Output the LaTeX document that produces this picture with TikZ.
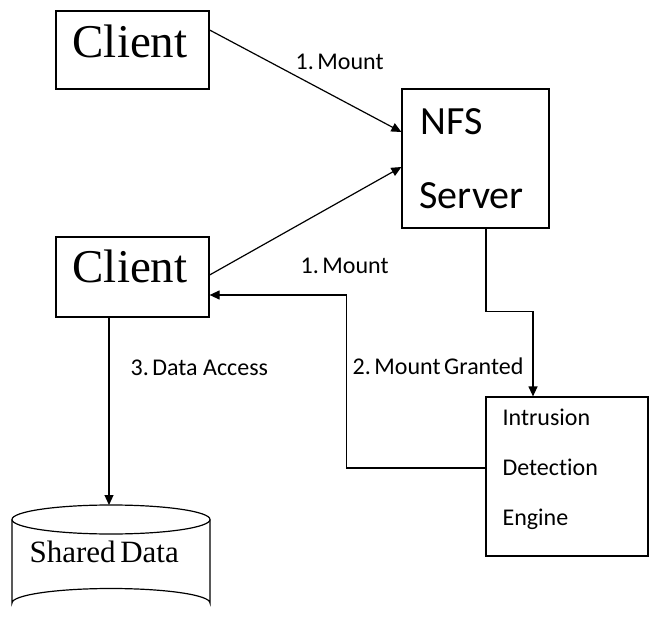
\documentclass[tikz,border=0pt]{standalone}
\usepackage{fontspec}
\setmainfont{Liberation Serif}
\newfontfamily\calfont[Ligatures={NoCommon,NoContextual}]{Carlito}
\usetikzlibrary{arrows.meta}
\begin{document}
\begin{tikzpicture}[x=1pt,y=-1pt,line width=1.2pt,
  box/.style={draw,rectangle,inner sep=0pt},
  arr/.style={-{Triangle[length=10pt,width=9pt]}},
  big/.style={anchor=base west,inner sep=0pt,font=\fontsize{47}{47}\selectfont},
  srv/.style={anchor=base west,inner sep=0pt,font=\calfont\fontsize{40}{40}\selectfont},
  lbl/.style={anchor=base west,inner sep=0pt,font=\calfont\fontsize{24}{24}\selectfont}]
\useasboundingbox (0,0) rectangle (650,617);
% boxes
\node[box,minimum width=153pt,minimum height=78pt] (c1) at (132.5,50) {};
\node[box,minimum width=147pt,minimum height=139pt] (nfs) at (475.5,158.5) {};
\node[box,minimum width=153pt,minimum height=80pt] (c2) at (132.5,277) {};
\node[box,minimum width=162pt,minimum height=159pt] (ide) at (567,476.5) {};
% texts
\node[big] (t1) at (72,58) {Client};
\node[big] (t2) at (72,283) {Client};
\node[srv] (tn) at (420,135) {NFS};
\node[srv] (ts) at (419,209) {Server};
\node[lbl] (ti1) at (502,425) {Intrusion};
\node[lbl] (ti2) at (502,475) {Detection};
\node[lbl] (ti3) at (502,525) {Engine};
% cylinder
\draw (12,519.5) -- (12,603) arc[start angle=180,end angle=360,x radius=99,y radius=14.5] -- (210,519.5);
\draw (111,519.5) ellipse[x radius=99,y radius=14.5];
\coordinate (cyltop) at (109,505);
\node[anchor=base west,inner sep=0pt,font=\fontsize{31}{31}\selectfont] (tsd) at (29,562) {Shared\kern0.15em Data};
% connectors
\draw[arr] ([yshift=20pt]c1.east) -- ([yshift=26.5pt]nfs.west);
\draw[arr] ([yshift=2pt]c2.east) -- ([yshift=-8.5pt]nfs.west);
\draw[arr] ([xshift=10.5pt]nfs.south) -- ++(0,83) -| ([xshift=-34pt]ide.north);
\draw[arr] ([yshift=8.5pt]ide.west) -- ++(-139,0) |- ([yshift=-18pt]c2.east);
\draw[arr] ([xshift=-23.5pt]c2.south) -- (cyltop);
% labels
\node[lbl] (l1) at (295,70) {1.\kern0.15em Mount};
\node[lbl] (l2) at (300,274) {1.\kern0.15em Mount};
\node[lbl] (l3) at (130,375) {3.\kern0.15em Data Access};
\node[lbl] (l4) at (352,374) {2.\kern0.15em Mount\kern0.15em Granted};
\end{tikzpicture}
\end{document}
